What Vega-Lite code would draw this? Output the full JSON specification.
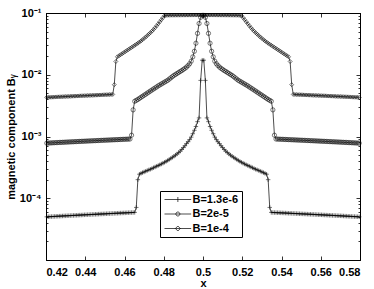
{
"$schema":"https://vega.github.io/schema/vega-lite/v6.json",
"width":314,"height":247,
"autosize":"none",
"padding":{"left":46,"top":13,"right":14,"bottom":29},
"background":"white",
"config":{"font":"Liberation Sans","view":{"stroke":"black","strokeWidth":1},
"axis":{"labelFont":"Liberation Sans","labelFontWeight":"bold","labelFontSize":11,"labelColor":"black","titleFont":"Liberation Sans","titleFontWeight":"bold","titleFontSize":11,"titleColor":"black","domainColor":"black","tickColor":"black","grid":false,"tickWidth":0.8,"domainWidth":1}},
"data":{"values":[
{"x":0.4204,"y":0.0043,"B":"1e-4"},{"x":0.4212,"y":0.00431,"B":"1e-4"},{"x":0.422,"y":0.00432,"B":"1e-4"},{"x":0.4228,"y":0.00433,"B":"1e-4"},{"x":0.4236,"y":0.00434,"B":"1e-4"},{"x":0.4244,"y":0.00435,"B":"1e-4"},{"x":0.4252,"y":0.00437,"B":"1e-4"},{"x":0.426,"y":0.00438,"B":"1e-4"},{"x":0.4268,"y":0.00439,"B":"1e-4"},{"x":0.4276,"y":0.0044,"B":"1e-4"},{"x":0.4284,"y":0.00441,"B":"1e-4"},{"x":0.4292,"y":0.00443,"B":"1e-4"},{"x":0.43,"y":0.00444,"B":"1e-4"},{"x":0.4308,"y":0.00445,"B":"1e-4"},{"x":0.4316,"y":0.00446,"B":"1e-4"},{"x":0.4324,"y":0.00447,"B":"1e-4"},{"x":0.4332,"y":0.00449,"B":"1e-4"},{"x":0.434,"y":0.0045,"B":"1e-4"},{"x":0.4348,"y":0.00451,"B":"1e-4"},{"x":0.4356,"y":0.00452,"B":"1e-4"},{"x":0.4364,"y":0.00453,"B":"1e-4"},{"x":0.4372,"y":0.00455,"B":"1e-4"},{"x":0.438,"y":0.00456,"B":"1e-4"},{"x":0.4388,"y":0.00457,"B":"1e-4"},{"x":0.4396,"y":0.00458,"B":"1e-4"},{"x":0.4404,"y":0.00459,"B":"1e-4"},{"x":0.4412,"y":0.00461,"B":"1e-4"},{"x":0.442,"y":0.00462,"B":"1e-4"},{"x":0.4428,"y":0.00463,"B":"1e-4"},{"x":0.4436,"y":0.00464,"B":"1e-4"},{"x":0.4444,"y":0.00465,"B":"1e-4"},{"x":0.4452,"y":0.00467,"B":"1e-4"},{"x":0.446,"y":0.00468,"B":"1e-4"},{"x":0.4468,"y":0.00469,"B":"1e-4"},{"x":0.4476,"y":0.0047,"B":"1e-4"},{"x":0.4484,"y":0.00471,"B":"1e-4"},{"x":0.4492,"y":0.00473,"B":"1e-4"},{"x":0.45,"y":0.00474,"B":"1e-4"},{"x":0.4508,"y":0.00475,"B":"1e-4"},{"x":0.4516,"y":0.00476,"B":"1e-4"},{"x":0.4524,"y":0.00478,"B":"1e-4"},{"x":0.4532,"y":0.00479,"B":"1e-4"},{"x":0.454,"y":0.0048,"B":"1e-4"},{"x":0.4548,"y":0.0069,"B":"1e-4"},{"x":0.4556,"y":0.0164,"B":"1e-4"},{"x":0.4564,"y":0.0195,"B":"1e-4"},{"x":0.4572,"y":0.0203,"B":"1e-4"},{"x":0.458,"y":0.0211,"B":"1e-4"},{"x":0.4588,"y":0.0219,"B":"1e-4"},{"x":0.4596,"y":0.0228,"B":"1e-4"},{"x":0.4604,"y":0.0237,"B":"1e-4"},{"x":0.4612,"y":0.0247,"B":"1e-4"},{"x":0.462,"y":0.0256,"B":"1e-4"},{"x":0.4628,"y":0.0267,"B":"1e-4"},{"x":0.4636,"y":0.0277,"B":"1e-4"},{"x":0.4644,"y":0.0288,"B":"1e-4"},{"x":0.4652,"y":0.03,"B":"1e-4"},{"x":0.466,"y":0.0312,"B":"1e-4"},{"x":0.4668,"y":0.0324,"B":"1e-4"},{"x":0.4676,"y":0.0338,"B":"1e-4"},{"x":0.4684,"y":0.0353,"B":"1e-4"},{"x":0.4692,"y":0.037,"B":"1e-4"},{"x":0.47,"y":0.0388,"B":"1e-4"},{"x":0.4708,"y":0.0408,"B":"1e-4"},{"x":0.4716,"y":0.0431,"B":"1e-4"},{"x":0.4724,"y":0.0454,"B":"1e-4"},{"x":0.4732,"y":0.048,"B":"1e-4"},{"x":0.474,"y":0.0508,"B":"1e-4"},{"x":0.4748,"y":0.0541,"B":"1e-4"},{"x":0.4756,"y":0.0578,"B":"1e-4"},{"x":0.4764,"y":0.0621,"B":"1e-4"},{"x":0.4772,"y":0.067,"B":"1e-4"},{"x":0.478,"y":0.0721,"B":"1e-4"},{"x":0.4788,"y":0.078,"B":"1e-4"},{"x":0.4796,"y":0.0841,"B":"1e-4"},{"x":0.4804,"y":0.0902,"B":"1e-4"},{"x":0.4812,"y":0.0917,"B":"1e-4"},{"x":0.482,"y":0.0919,"B":"1e-4"},{"x":0.4828,"y":0.092,"B":"1e-4"},{"x":0.4836,"y":0.0921,"B":"1e-4"},{"x":0.4844,"y":0.0921,"B":"1e-4"},{"x":0.4852,"y":0.0922,"B":"1e-4"},{"x":0.486,"y":0.0922,"B":"1e-4"},{"x":0.4868,"y":0.0923,"B":"1e-4"},{"x":0.4876,"y":0.0923,"B":"1e-4"},{"x":0.4884,"y":0.0923,"B":"1e-4"},{"x":0.4892,"y":0.0924,"B":"1e-4"},{"x":0.49,"y":0.0924,"B":"1e-4"},{"x":0.4908,"y":0.0924,"B":"1e-4"},{"x":0.4916,"y":0.0925,"B":"1e-4"},{"x":0.4924,"y":0.0925,"B":"1e-4"},{"x":0.4932,"y":0.0925,"B":"1e-4"},{"x":0.494,"y":0.0926,"B":"1e-4"},{"x":0.4948,"y":0.0926,"B":"1e-4"},{"x":0.4956,"y":0.0927,"B":"1e-4"},{"x":0.4964,"y":0.0927,"B":"1e-4"},{"x":0.4972,"y":0.0928,"B":"1e-4"},{"x":0.498,"y":0.0928,"B":"1e-4"},{"x":0.4988,"y":0.0929,"B":"1e-4"},{"x":0.4996,"y":0.093,"B":"1e-4"},
{"x":0.5004,"y":0.093,"B":"1e-4"},{"x":0.5012,"y":0.0929,"B":"1e-4"},{"x":0.502,"y":0.0928,"B":"1e-4"},{"x":0.5028,"y":0.0928,"B":"1e-4"},{"x":0.5036,"y":0.0927,"B":"1e-4"},{"x":0.5044,"y":0.0927,"B":"1e-4"},{"x":0.5052,"y":0.0926,"B":"1e-4"},{"x":0.506,"y":0.0926,"B":"1e-4"},{"x":0.5068,"y":0.0925,"B":"1e-4"},{"x":0.5076,"y":0.0925,"B":"1e-4"},{"x":0.5084,"y":0.0925,"B":"1e-4"},{"x":0.5092,"y":0.0924,"B":"1e-4"},{"x":0.51,"y":0.0924,"B":"1e-4"},{"x":0.5108,"y":0.0924,"B":"1e-4"},{"x":0.5116,"y":0.0923,"B":"1e-4"},{"x":0.5124,"y":0.0923,"B":"1e-4"},{"x":0.5132,"y":0.0923,"B":"1e-4"},{"x":0.514,"y":0.0922,"B":"1e-4"},{"x":0.5148,"y":0.0922,"B":"1e-4"},{"x":0.5156,"y":0.0921,"B":"1e-4"},{"x":0.5164,"y":0.0921,"B":"1e-4"},{"x":0.5172,"y":0.092,"B":"1e-4"},{"x":0.518,"y":0.0919,"B":"1e-4"},{"x":0.5188,"y":0.0917,"B":"1e-4"},{"x":0.5196,"y":0.0902,"B":"1e-4"},{"x":0.5204,"y":0.0841,"B":"1e-4"},{"x":0.5212,"y":0.078,"B":"1e-4"},{"x":0.522,"y":0.0721,"B":"1e-4"},{"x":0.5228,"y":0.067,"B":"1e-4"},{"x":0.5236,"y":0.0621,"B":"1e-4"},{"x":0.5244,"y":0.0578,"B":"1e-4"},{"x":0.5252,"y":0.0541,"B":"1e-4"},{"x":0.526,"y":0.0508,"B":"1e-4"},{"x":0.5268,"y":0.048,"B":"1e-4"},{"x":0.5276,"y":0.0454,"B":"1e-4"},{"x":0.5284,"y":0.0431,"B":"1e-4"},{"x":0.5292,"y":0.0408,"B":"1e-4"},{"x":0.53,"y":0.0388,"B":"1e-4"},{"x":0.5308,"y":0.037,"B":"1e-4"},{"x":0.5316,"y":0.0353,"B":"1e-4"},{"x":0.5324,"y":0.0338,"B":"1e-4"},{"x":0.5332,"y":0.0324,"B":"1e-4"},{"x":0.534,"y":0.0312,"B":"1e-4"},{"x":0.5348,"y":0.03,"B":"1e-4"},{"x":0.5356,"y":0.0288,"B":"1e-4"},{"x":0.5364,"y":0.0277,"B":"1e-4"},{"x":0.5372,"y":0.0267,"B":"1e-4"},{"x":0.538,"y":0.0256,"B":"1e-4"},{"x":0.5388,"y":0.0247,"B":"1e-4"},{"x":0.5396,"y":0.0237,"B":"1e-4"},{"x":0.5404,"y":0.0228,"B":"1e-4"},{"x":0.5412,"y":0.0219,"B":"1e-4"},{"x":0.542,"y":0.0211,"B":"1e-4"},{"x":0.5428,"y":0.0203,"B":"1e-4"},{"x":0.5436,"y":0.0195,"B":"1e-4"},{"x":0.5444,"y":0.0164,"B":"1e-4"},{"x":0.5452,"y":0.0069,"B":"1e-4"},{"x":0.546,"y":0.0048,"B":"1e-4"},{"x":0.5468,"y":0.00479,"B":"1e-4"},{"x":0.5476,"y":0.00478,"B":"1e-4"},{"x":0.5484,"y":0.00476,"B":"1e-4"},{"x":0.5492,"y":0.00475,"B":"1e-4"},{"x":0.55,"y":0.00474,"B":"1e-4"},{"x":0.5508,"y":0.00473,"B":"1e-4"},{"x":0.5516,"y":0.00471,"B":"1e-4"},{"x":0.5524,"y":0.0047,"B":"1e-4"},{"x":0.5532,"y":0.00469,"B":"1e-4"},{"x":0.554,"y":0.00468,"B":"1e-4"},{"x":0.5548,"y":0.00467,"B":"1e-4"},{"x":0.5556,"y":0.00465,"B":"1e-4"},{"x":0.5564,"y":0.00464,"B":"1e-4"},{"x":0.5572,"y":0.00463,"B":"1e-4"},{"x":0.558,"y":0.00462,"B":"1e-4"},{"x":0.5588,"y":0.00461,"B":"1e-4"},{"x":0.5596,"y":0.00459,"B":"1e-4"},{"x":0.5604,"y":0.00458,"B":"1e-4"},{"x":0.5612,"y":0.00457,"B":"1e-4"},{"x":0.562,"y":0.00456,"B":"1e-4"},{"x":0.5628,"y":0.00455,"B":"1e-4"},{"x":0.5636,"y":0.00453,"B":"1e-4"},{"x":0.5644,"y":0.00452,"B":"1e-4"},{"x":0.5652,"y":0.00451,"B":"1e-4"},{"x":0.566,"y":0.0045,"B":"1e-4"},{"x":0.5668,"y":0.00449,"B":"1e-4"},{"x":0.5676,"y":0.00447,"B":"1e-4"},{"x":0.5684,"y":0.00446,"B":"1e-4"},{"x":0.5692,"y":0.00445,"B":"1e-4"},{"x":0.57,"y":0.00444,"B":"1e-4"},{"x":0.5708,"y":0.00443,"B":"1e-4"},{"x":0.5716,"y":0.00441,"B":"1e-4"},{"x":0.5724,"y":0.0044,"B":"1e-4"},{"x":0.5732,"y":0.00439,"B":"1e-4"},{"x":0.574,"y":0.00438,"B":"1e-4"},{"x":0.5748,"y":0.00437,"B":"1e-4"},{"x":0.5756,"y":0.00435,"B":"1e-4"},{"x":0.5764,"y":0.00434,"B":"1e-4"},{"x":0.5772,"y":0.00433,"B":"1e-4"},{"x":0.578,"y":0.00432,"B":"1e-4"},{"x":0.5788,"y":0.00431,"B":"1e-4"},{"x":0.5796,"y":0.0043,"B":"1e-4"},
{"x":0.4204,"y":0.000781,"B":"2e-5"},{"x":0.4212,"y":0.000783,"B":"2e-5"},{"x":0.422,"y":0.000786,"B":"2e-5"},{"x":0.4228,"y":0.000788,"B":"2e-5"},{"x":0.4236,"y":0.000791,"B":"2e-5"},{"x":0.4244,"y":0.000793,"B":"2e-5"},{"x":0.4252,"y":0.000796,"B":"2e-5"},{"x":0.426,"y":0.000798,"B":"2e-5"},{"x":0.4268,"y":0.000801,"B":"2e-5"},{"x":0.4276,"y":0.000803,"B":"2e-5"},{"x":0.4284,"y":0.000805,"B":"2e-5"},{"x":0.4292,"y":0.000808,"B":"2e-5"},{"x":0.43,"y":0.00081,"B":"2e-5"},{"x":0.4308,"y":0.000813,"B":"2e-5"},{"x":0.4316,"y":0.000815,"B":"2e-5"},{"x":0.4324,"y":0.000818,"B":"2e-5"},{"x":0.4332,"y":0.00082,"B":"2e-5"},{"x":0.434,"y":0.000822,"B":"2e-5"},{"x":0.4348,"y":0.000825,"B":"2e-5"},{"x":0.4356,"y":0.000827,"B":"2e-5"},{"x":0.4364,"y":0.00083,"B":"2e-5"},{"x":0.4372,"y":0.000832,"B":"2e-5"},{"x":0.438,"y":0.000835,"B":"2e-5"},{"x":0.4388,"y":0.000837,"B":"2e-5"},{"x":0.4396,"y":0.000839,"B":"2e-5"},{"x":0.4404,"y":0.000842,"B":"2e-5"},{"x":0.4412,"y":0.000844,"B":"2e-5"},{"x":0.442,"y":0.000847,"B":"2e-5"},{"x":0.4428,"y":0.000849,"B":"2e-5"},{"x":0.4436,"y":0.000852,"B":"2e-5"},{"x":0.4444,"y":0.000854,"B":"2e-5"},{"x":0.4452,"y":0.000856,"B":"2e-5"},{"x":0.446,"y":0.000859,"B":"2e-5"},{"x":0.4468,"y":0.000861,"B":"2e-5"},{"x":0.4476,"y":0.000864,"B":"2e-5"},{"x":0.4484,"y":0.000866,"B":"2e-5"},{"x":0.4492,"y":0.000869,"B":"2e-5"},{"x":0.45,"y":0.000871,"B":"2e-5"},{"x":0.4508,"y":0.000873,"B":"2e-5"},{"x":0.4516,"y":0.000876,"B":"2e-5"},{"x":0.4524,"y":0.000878,"B":"2e-5"},{"x":0.4532,"y":0.000881,"B":"2e-5"},{"x":0.454,"y":0.000883,"B":"2e-5"},{"x":0.4548,"y":0.000886,"B":"2e-5"},{"x":0.4556,"y":0.000888,"B":"2e-5"},{"x":0.4564,"y":0.00089,"B":"2e-5"},{"x":0.4572,"y":0.000893,"B":"2e-5"},{"x":0.458,"y":0.000895,"B":"2e-5"},{"x":0.4588,"y":0.000898,"B":"2e-5"},{"x":0.4596,"y":0.0009,"B":"2e-5"},{"x":0.4604,"y":0.000903,"B":"2e-5"},{"x":0.4612,"y":0.000905,"B":"2e-5"},{"x":0.462,"y":0.000908,"B":"2e-5"},{"x":0.4628,"y":0.00091,"B":"2e-5"},{"x":0.4636,"y":0.00105,"B":"2e-5"},{"x":0.4644,"y":0.0027,"B":"2e-5"},{"x":0.4652,"y":0.00372,"B":"2e-5"},{"x":0.466,"y":0.00385,"B":"2e-5"},{"x":0.4668,"y":0.00398,"B":"2e-5"},{"x":0.4676,"y":0.00414,"B":"2e-5"},{"x":0.4684,"y":0.00431,"B":"2e-5"},{"x":0.4692,"y":0.00448,"B":"2e-5"},{"x":0.47,"y":0.00466,"B":"2e-5"},{"x":0.4708,"y":0.00484,"B":"2e-5"},{"x":0.4716,"y":0.00504,"B":"2e-5"},{"x":0.4724,"y":0.00524,"B":"2e-5"},{"x":0.4732,"y":0.00545,"B":"2e-5"},{"x":0.474,"y":0.00566,"B":"2e-5"},{"x":0.4748,"y":0.00589,"B":"2e-5"},{"x":0.4756,"y":0.00611,"B":"2e-5"},{"x":0.4764,"y":0.00635,"B":"2e-5"},{"x":0.4772,"y":0.00661,"B":"2e-5"},{"x":0.478,"y":0.00684,"B":"2e-5"},{"x":0.4788,"y":0.00708,"B":"2e-5"},{"x":0.4796,"y":0.00733,"B":"2e-5"},{"x":0.4804,"y":0.00759,"B":"2e-5"},{"x":0.4812,"y":0.00785,"B":"2e-5"},{"x":0.482,"y":0.00813,"B":"2e-5"},{"x":0.4828,"y":0.00851,"B":"2e-5"},{"x":0.4836,"y":0.00891,"B":"2e-5"},{"x":0.4844,"y":0.00933,"B":"2e-5"},{"x":0.4852,"y":0.00977,"B":"2e-5"},{"x":0.486,"y":0.0101,"B":"2e-5"},{"x":0.4868,"y":0.0105,"B":"2e-5"},{"x":0.4876,"y":0.0109,"B":"2e-5"},{"x":0.4884,"y":0.0113,"B":"2e-5"},{"x":0.4892,"y":0.0117,"B":"2e-5"},{"x":0.49,"y":0.0122,"B":"2e-5"},{"x":0.4908,"y":0.0127,"B":"2e-5"},{"x":0.4916,"y":0.0133,"B":"2e-5"},{"x":0.4924,"y":0.0141,"B":"2e-5"},{"x":0.4932,"y":0.0151,"B":"2e-5"},{"x":0.494,"y":0.0166,"B":"2e-5"},{"x":0.4948,"y":0.0195,"B":"2e-5"},{"x":0.4956,"y":0.024,"B":"2e-5"},{"x":0.4964,"y":0.0324,"B":"2e-5"},{"x":0.4972,"y":0.0468,"B":"2e-5"},{"x":0.498,"y":0.0676,"B":"2e-5"},{"x":0.4988,"y":0.0851,"B":"2e-5"},{"x":0.4996,"y":0.0912,"B":"2e-5"},
{"x":0.5004,"y":0.0912,"B":"2e-5"},{"x":0.5012,"y":0.0851,"B":"2e-5"},{"x":0.502,"y":0.0676,"B":"2e-5"},{"x":0.5028,"y":0.0468,"B":"2e-5"},{"x":0.5036,"y":0.0324,"B":"2e-5"},{"x":0.5044,"y":0.024,"B":"2e-5"},{"x":0.5052,"y":0.0195,"B":"2e-5"},{"x":0.506,"y":0.0166,"B":"2e-5"},{"x":0.5068,"y":0.0151,"B":"2e-5"},{"x":0.5076,"y":0.0141,"B":"2e-5"},{"x":0.5084,"y":0.0133,"B":"2e-5"},{"x":0.5092,"y":0.0127,"B":"2e-5"},{"x":0.51,"y":0.0122,"B":"2e-5"},{"x":0.5108,"y":0.0117,"B":"2e-5"},{"x":0.5116,"y":0.0113,"B":"2e-5"},{"x":0.5124,"y":0.0109,"B":"2e-5"},{"x":0.5132,"y":0.0105,"B":"2e-5"},{"x":0.514,"y":0.0101,"B":"2e-5"},{"x":0.5148,"y":0.00977,"B":"2e-5"},{"x":0.5156,"y":0.00933,"B":"2e-5"},{"x":0.5164,"y":0.00891,"B":"2e-5"},{"x":0.5172,"y":0.00851,"B":"2e-5"},{"x":0.518,"y":0.00813,"B":"2e-5"},{"x":0.5188,"y":0.00785,"B":"2e-5"},{"x":0.5196,"y":0.00759,"B":"2e-5"},{"x":0.5204,"y":0.00733,"B":"2e-5"},{"x":0.5212,"y":0.00708,"B":"2e-5"},{"x":0.522,"y":0.00684,"B":"2e-5"},{"x":0.5228,"y":0.00661,"B":"2e-5"},{"x":0.5236,"y":0.00635,"B":"2e-5"},{"x":0.5244,"y":0.00611,"B":"2e-5"},{"x":0.5252,"y":0.00589,"B":"2e-5"},{"x":0.526,"y":0.00566,"B":"2e-5"},{"x":0.5268,"y":0.00545,"B":"2e-5"},{"x":0.5276,"y":0.00524,"B":"2e-5"},{"x":0.5284,"y":0.00504,"B":"2e-5"},{"x":0.5292,"y":0.00484,"B":"2e-5"},{"x":0.53,"y":0.00466,"B":"2e-5"},{"x":0.5308,"y":0.00448,"B":"2e-5"},{"x":0.5316,"y":0.00431,"B":"2e-5"},{"x":0.5324,"y":0.00414,"B":"2e-5"},{"x":0.5332,"y":0.00398,"B":"2e-5"},{"x":0.534,"y":0.00385,"B":"2e-5"},{"x":0.5348,"y":0.00372,"B":"2e-5"},{"x":0.5356,"y":0.0027,"B":"2e-5"},{"x":0.5364,"y":0.00105,"B":"2e-5"},{"x":0.5372,"y":0.00091,"B":"2e-5"},{"x":0.538,"y":0.000908,"B":"2e-5"},{"x":0.5388,"y":0.000905,"B":"2e-5"},{"x":0.5396,"y":0.000903,"B":"2e-5"},{"x":0.5404,"y":0.0009,"B":"2e-5"},{"x":0.5412,"y":0.000898,"B":"2e-5"},{"x":0.542,"y":0.000895,"B":"2e-5"},{"x":0.5428,"y":0.000893,"B":"2e-5"},{"x":0.5436,"y":0.00089,"B":"2e-5"},{"x":0.5444,"y":0.000888,"B":"2e-5"},{"x":0.5452,"y":0.000886,"B":"2e-5"},{"x":0.546,"y":0.000883,"B":"2e-5"},{"x":0.5468,"y":0.000881,"B":"2e-5"},{"x":0.5476,"y":0.000878,"B":"2e-5"},{"x":0.5484,"y":0.000876,"B":"2e-5"},{"x":0.5492,"y":0.000873,"B":"2e-5"},{"x":0.55,"y":0.000871,"B":"2e-5"},{"x":0.5508,"y":0.000869,"B":"2e-5"},{"x":0.5516,"y":0.000866,"B":"2e-5"},{"x":0.5524,"y":0.000864,"B":"2e-5"},{"x":0.5532,"y":0.000861,"B":"2e-5"},{"x":0.554,"y":0.000859,"B":"2e-5"},{"x":0.5548,"y":0.000856,"B":"2e-5"},{"x":0.5556,"y":0.000854,"B":"2e-5"},{"x":0.5564,"y":0.000852,"B":"2e-5"},{"x":0.5572,"y":0.000849,"B":"2e-5"},{"x":0.558,"y":0.000847,"B":"2e-5"},{"x":0.5588,"y":0.000844,"B":"2e-5"},{"x":0.5596,"y":0.000842,"B":"2e-5"},{"x":0.5604,"y":0.000839,"B":"2e-5"},{"x":0.5612,"y":0.000837,"B":"2e-5"},{"x":0.562,"y":0.000835,"B":"2e-5"},{"x":0.5628,"y":0.000832,"B":"2e-5"},{"x":0.5636,"y":0.00083,"B":"2e-5"},{"x":0.5644,"y":0.000827,"B":"2e-5"},{"x":0.5652,"y":0.000825,"B":"2e-5"},{"x":0.566,"y":0.000822,"B":"2e-5"},{"x":0.5668,"y":0.00082,"B":"2e-5"},{"x":0.5676,"y":0.000818,"B":"2e-5"},{"x":0.5684,"y":0.000815,"B":"2e-5"},{"x":0.5692,"y":0.000813,"B":"2e-5"},{"x":0.57,"y":0.00081,"B":"2e-5"},{"x":0.5708,"y":0.000808,"B":"2e-5"},{"x":0.5716,"y":0.000805,"B":"2e-5"},{"x":0.5724,"y":0.000803,"B":"2e-5"},{"x":0.5732,"y":0.000801,"B":"2e-5"},{"x":0.574,"y":0.000798,"B":"2e-5"},{"x":0.5748,"y":0.000796,"B":"2e-5"},{"x":0.5756,"y":0.000793,"B":"2e-5"},{"x":0.5764,"y":0.000791,"B":"2e-5"},{"x":0.5772,"y":0.000788,"B":"2e-5"},{"x":0.578,"y":0.000786,"B":"2e-5"},{"x":0.5788,"y":0.000783,"B":"2e-5"},{"x":0.5796,"y":0.000781,"B":"2e-5"},
{"x":0.4204,"y":5.0e-5,"B":"1.3e-6"},{"x":0.4212,"y":5.02e-5,"B":"1.3e-6"},{"x":0.422,"y":5.03e-5,"B":"1.3e-6"},{"x":0.4228,"y":5.05e-5,"B":"1.3e-6"},{"x":0.4236,"y":5.06e-5,"B":"1.3e-6"},{"x":0.4244,"y":5.08e-5,"B":"1.3e-6"},{"x":0.4252,"y":5.1e-5,"B":"1.3e-6"},{"x":0.426,"y":5.11e-5,"B":"1.3e-6"},{"x":0.4268,"y":5.13e-5,"B":"1.3e-6"},{"x":0.4276,"y":5.14e-5,"B":"1.3e-6"},{"x":0.4284,"y":5.16e-5,"B":"1.3e-6"},{"x":0.4292,"y":5.18e-5,"B":"1.3e-6"},{"x":0.43,"y":5.19e-5,"B":"1.3e-6"},{"x":0.4308,"y":5.21e-5,"B":"1.3e-6"},{"x":0.4316,"y":5.22e-5,"B":"1.3e-6"},{"x":0.4324,"y":5.24e-5,"B":"1.3e-6"},{"x":0.4332,"y":5.26e-5,"B":"1.3e-6"},{"x":0.434,"y":5.27e-5,"B":"1.3e-6"},{"x":0.4348,"y":5.29e-5,"B":"1.3e-6"},{"x":0.4356,"y":5.3e-5,"B":"1.3e-6"},{"x":0.4364,"y":5.32e-5,"B":"1.3e-6"},{"x":0.4372,"y":5.34e-5,"B":"1.3e-6"},{"x":0.438,"y":5.35e-5,"B":"1.3e-6"},{"x":0.4388,"y":5.37e-5,"B":"1.3e-6"},{"x":0.4396,"y":5.39e-5,"B":"1.3e-6"},{"x":0.4404,"y":5.4e-5,"B":"1.3e-6"},{"x":0.4412,"y":5.42e-5,"B":"1.3e-6"},{"x":0.442,"y":5.43e-5,"B":"1.3e-6"},{"x":0.4428,"y":5.45e-5,"B":"1.3e-6"},{"x":0.4436,"y":5.47e-5,"B":"1.3e-6"},{"x":0.4444,"y":5.48e-5,"B":"1.3e-6"},{"x":0.4452,"y":5.5e-5,"B":"1.3e-6"},{"x":0.446,"y":5.51e-5,"B":"1.3e-6"},{"x":0.4468,"y":5.53e-5,"B":"1.3e-6"},{"x":0.4476,"y":5.55e-5,"B":"1.3e-6"},{"x":0.4484,"y":5.56e-5,"B":"1.3e-6"},{"x":0.4492,"y":5.58e-5,"B":"1.3e-6"},{"x":0.45,"y":5.59e-5,"B":"1.3e-6"},{"x":0.4508,"y":5.61e-5,"B":"1.3e-6"},{"x":0.4516,"y":5.63e-5,"B":"1.3e-6"},{"x":0.4524,"y":5.64e-5,"B":"1.3e-6"},{"x":0.4532,"y":5.66e-5,"B":"1.3e-6"},{"x":0.454,"y":5.67e-5,"B":"1.3e-6"},{"x":0.4548,"y":5.69e-5,"B":"1.3e-6"},{"x":0.4556,"y":5.71e-5,"B":"1.3e-6"},{"x":0.4564,"y":5.72e-5,"B":"1.3e-6"},{"x":0.4572,"y":5.74e-5,"B":"1.3e-6"},{"x":0.458,"y":5.76e-5,"B":"1.3e-6"},{"x":0.4588,"y":5.77e-5,"B":"1.3e-6"},{"x":0.4596,"y":5.79e-5,"B":"1.3e-6"},{"x":0.4604,"y":5.8e-5,"B":"1.3e-6"},{"x":0.4612,"y":5.82e-5,"B":"1.3e-6"},{"x":0.462,"y":5.84e-5,"B":"1.3e-6"},{"x":0.4628,"y":5.85e-5,"B":"1.3e-6"},{"x":0.4636,"y":5.87e-5,"B":"1.3e-6"},{"x":0.4644,"y":5.88e-5,"B":"1.3e-6"},{"x":0.4652,"y":5.9e-5,"B":"1.3e-6"},{"x":0.466,"y":7.1e-5,"B":"1.3e-6"},{"x":0.4668,"y":0.0002,"B":"1.3e-6"},{"x":0.4676,"y":0.000245,"B":"1.3e-6"},{"x":0.4684,"y":0.000253,"B":"1.3e-6"},{"x":0.4692,"y":0.00026,"B":"1.3e-6"},{"x":0.47,"y":0.000267,"B":"1.3e-6"},{"x":0.4708,"y":0.000274,"B":"1.3e-6"},{"x":0.4716,"y":0.000281,"B":"1.3e-6"},{"x":0.4724,"y":0.000288,"B":"1.3e-6"},{"x":0.4732,"y":0.000295,"B":"1.3e-6"},{"x":0.474,"y":0.000303,"B":"1.3e-6"},{"x":0.4748,"y":0.000312,"B":"1.3e-6"},{"x":0.4756,"y":0.000321,"B":"1.3e-6"},{"x":0.4764,"y":0.00033,"B":"1.3e-6"},{"x":0.4772,"y":0.000339,"B":"1.3e-6"},{"x":0.478,"y":0.000348,"B":"1.3e-6"},{"x":0.4788,"y":0.000359,"B":"1.3e-6"},{"x":0.4796,"y":0.00037,"B":"1.3e-6"},{"x":0.4804,"y":0.000382,"B":"1.3e-6"},{"x":0.4812,"y":0.000395,"B":"1.3e-6"},{"x":0.482,"y":0.000409,"B":"1.3e-6"},{"x":0.4828,"y":0.000425,"B":"1.3e-6"},{"x":0.4836,"y":0.000442,"B":"1.3e-6"},{"x":0.4844,"y":0.000459,"B":"1.3e-6"},{"x":0.4852,"y":0.000479,"B":"1.3e-6"},{"x":0.486,"y":0.000499,"B":"1.3e-6"},{"x":0.4868,"y":0.000522,"B":"1.3e-6"},{"x":0.4876,"y":0.00055,"B":"1.3e-6"},{"x":0.4884,"y":0.000579,"B":"1.3e-6"},{"x":0.4892,"y":0.000617,"B":"1.3e-6"},{"x":0.49,"y":0.000661,"B":"1.3e-6"},{"x":0.4908,"y":0.000708,"B":"1.3e-6"},{"x":0.4916,"y":0.000767,"B":"1.3e-6"},{"x":0.4924,"y":0.000822,"B":"1.3e-6"},{"x":0.4932,"y":0.000891,"B":"1.3e-6"},{"x":0.494,"y":0.000977,"B":"1.3e-6"},{"x":0.4948,"y":0.00111,"B":"1.3e-6"},{"x":0.4956,"y":0.00126,"B":"1.3e-6"},{"x":0.4964,"y":0.00145,"B":"1.3e-6"},{"x":0.4972,"y":0.00174,"B":"1.3e-6"},{"x":0.498,"y":0.002,"B":"1.3e-6"},{"x":0.4988,"y":0.0081,"B":"1.3e-6"},{"x":0.4996,"y":0.0172,"B":"1.3e-6"},
{"x":0.5004,"y":0.0172,"B":"1.3e-6"},{"x":0.5012,"y":0.0081,"B":"1.3e-6"},{"x":0.502,"y":0.002,"B":"1.3e-6"},{"x":0.5028,"y":0.00174,"B":"1.3e-6"},{"x":0.5036,"y":0.00145,"B":"1.3e-6"},{"x":0.5044,"y":0.00126,"B":"1.3e-6"},{"x":0.5052,"y":0.00111,"B":"1.3e-6"},{"x":0.506,"y":0.000977,"B":"1.3e-6"},{"x":0.5068,"y":0.000891,"B":"1.3e-6"},{"x":0.5076,"y":0.000822,"B":"1.3e-6"},{"x":0.5084,"y":0.000767,"B":"1.3e-6"},{"x":0.5092,"y":0.000708,"B":"1.3e-6"},{"x":0.51,"y":0.000661,"B":"1.3e-6"},{"x":0.5108,"y":0.000617,"B":"1.3e-6"},{"x":0.5116,"y":0.000579,"B":"1.3e-6"},{"x":0.5124,"y":0.00055,"B":"1.3e-6"},{"x":0.5132,"y":0.000522,"B":"1.3e-6"},{"x":0.514,"y":0.000499,"B":"1.3e-6"},{"x":0.5148,"y":0.000479,"B":"1.3e-6"},{"x":0.5156,"y":0.000459,"B":"1.3e-6"},{"x":0.5164,"y":0.000442,"B":"1.3e-6"},{"x":0.5172,"y":0.000425,"B":"1.3e-6"},{"x":0.518,"y":0.000409,"B":"1.3e-6"},{"x":0.5188,"y":0.000395,"B":"1.3e-6"},{"x":0.5196,"y":0.000382,"B":"1.3e-6"},{"x":0.5204,"y":0.00037,"B":"1.3e-6"},{"x":0.5212,"y":0.000359,"B":"1.3e-6"},{"x":0.522,"y":0.000348,"B":"1.3e-6"},{"x":0.5228,"y":0.000339,"B":"1.3e-6"},{"x":0.5236,"y":0.00033,"B":"1.3e-6"},{"x":0.5244,"y":0.000321,"B":"1.3e-6"},{"x":0.5252,"y":0.000312,"B":"1.3e-6"},{"x":0.526,"y":0.000303,"B":"1.3e-6"},{"x":0.5268,"y":0.000295,"B":"1.3e-6"},{"x":0.5276,"y":0.000288,"B":"1.3e-6"},{"x":0.5284,"y":0.000281,"B":"1.3e-6"},{"x":0.5292,"y":0.000274,"B":"1.3e-6"},{"x":0.53,"y":0.000267,"B":"1.3e-6"},{"x":0.5308,"y":0.00026,"B":"1.3e-6"},{"x":0.5316,"y":0.000253,"B":"1.3e-6"},{"x":0.5324,"y":0.000245,"B":"1.3e-6"},{"x":0.5332,"y":0.0002,"B":"1.3e-6"},{"x":0.534,"y":7.1e-5,"B":"1.3e-6"},{"x":0.5348,"y":5.9e-5,"B":"1.3e-6"},{"x":0.5356,"y":5.88e-5,"B":"1.3e-6"},{"x":0.5364,"y":5.87e-5,"B":"1.3e-6"},{"x":0.5372,"y":5.85e-5,"B":"1.3e-6"},{"x":0.538,"y":5.84e-5,"B":"1.3e-6"},{"x":0.5388,"y":5.82e-5,"B":"1.3e-6"},{"x":0.5396,"y":5.8e-5,"B":"1.3e-6"},{"x":0.5404,"y":5.79e-5,"B":"1.3e-6"},{"x":0.5412,"y":5.77e-5,"B":"1.3e-6"},{"x":0.542,"y":5.76e-5,"B":"1.3e-6"},{"x":0.5428,"y":5.74e-5,"B":"1.3e-6"},{"x":0.5436,"y":5.72e-5,"B":"1.3e-6"},{"x":0.5444,"y":5.71e-5,"B":"1.3e-6"},{"x":0.5452,"y":5.69e-5,"B":"1.3e-6"},{"x":0.546,"y":5.67e-5,"B":"1.3e-6"},{"x":0.5468,"y":5.66e-5,"B":"1.3e-6"},{"x":0.5476,"y":5.64e-5,"B":"1.3e-6"},{"x":0.5484,"y":5.63e-5,"B":"1.3e-6"},{"x":0.5492,"y":5.61e-5,"B":"1.3e-6"},{"x":0.55,"y":5.59e-5,"B":"1.3e-6"},{"x":0.5508,"y":5.58e-5,"B":"1.3e-6"},{"x":0.5516,"y":5.56e-5,"B":"1.3e-6"},{"x":0.5524,"y":5.55e-5,"B":"1.3e-6"},{"x":0.5532,"y":5.53e-5,"B":"1.3e-6"},{"x":0.554,"y":5.51e-5,"B":"1.3e-6"},{"x":0.5548,"y":5.5e-5,"B":"1.3e-6"},{"x":0.5556,"y":5.48e-5,"B":"1.3e-6"},{"x":0.5564,"y":5.47e-5,"B":"1.3e-6"},{"x":0.5572,"y":5.45e-5,"B":"1.3e-6"},{"x":0.558,"y":5.43e-5,"B":"1.3e-6"},{"x":0.5588,"y":5.42e-5,"B":"1.3e-6"},{"x":0.5596,"y":5.4e-5,"B":"1.3e-6"},{"x":0.5604,"y":5.39e-5,"B":"1.3e-6"},{"x":0.5612,"y":5.37e-5,"B":"1.3e-6"},{"x":0.562,"y":5.35e-5,"B":"1.3e-6"},{"x":0.5628,"y":5.34e-5,"B":"1.3e-6"},{"x":0.5636,"y":5.32e-5,"B":"1.3e-6"},{"x":0.5644,"y":5.3e-5,"B":"1.3e-6"},{"x":0.5652,"y":5.29e-5,"B":"1.3e-6"},{"x":0.566,"y":5.27e-5,"B":"1.3e-6"},{"x":0.5668,"y":5.26e-5,"B":"1.3e-6"},{"x":0.5676,"y":5.24e-5,"B":"1.3e-6"},{"x":0.5684,"y":5.22e-5,"B":"1.3e-6"},{"x":0.5692,"y":5.21e-5,"B":"1.3e-6"},{"x":0.57,"y":5.19e-5,"B":"1.3e-6"},{"x":0.5708,"y":5.18e-5,"B":"1.3e-6"},{"x":0.5716,"y":5.16e-5,"B":"1.3e-6"},{"x":0.5724,"y":5.14e-5,"B":"1.3e-6"},{"x":0.5732,"y":5.13e-5,"B":"1.3e-6"},{"x":0.574,"y":5.11e-5,"B":"1.3e-6"},{"x":0.5748,"y":5.1e-5,"B":"1.3e-6"},{"x":0.5756,"y":5.08e-5,"B":"1.3e-6"},{"x":0.5764,"y":5.06e-5,"B":"1.3e-6"},{"x":0.5772,"y":5.05e-5,"B":"1.3e-6"},{"x":0.578,"y":5.03e-5,"B":"1.3e-6"},{"x":0.5788,"y":5.02e-5,"B":"1.3e-6"},{"x":0.5796,"y":5.0e-5,"B":"1.3e-6"}
]},
"layer":[
{"mark":{"type":"line","color":"black","strokeWidth":0.7},
"encoding":{
"x":{"field":"x","type":"quantitative","scale":{"domain":[0.42,0.58],"nice":false,"zero":false},
"axis":{"orient":"bottom","values":[0.42,0.44,0.46,0.48,0.5,0.52,0.54,0.56,0.58],"format":".2~f","tickSize":-4,"labelPadding":10,"title":"x","titlePadding":0}},
"y":{"field":"y","type":"quantitative","scale":{"type":"log","domain":[0.00001,0.1],"nice":false},
"axis":{"orient":"left","values":[0.00002,0.00003,0.00004,0.00005,0.00006,0.00007,0.00008,0.00009,0.0001,0.0002,0.0003,0.0004,0.0005,0.0006,0.0007,0.0008,0.0009,0.001,0.002,0.003,0.004,0.005,0.006,0.007,0.008,0.009,0.01,0.02,0.03,0.04,0.05,0.06,0.07,0.08,0.09,0.1],
"labelExpr":"abs(log(datum.value)/LN10-round(log(datum.value)/LN10))<0.001 ? '10' + ['⁰','⁻¹','⁻²','⁻³','⁻⁴','⁻⁵'][-round(log(datum.value)/LN10)] : ''",
"tickSize":{"condition":{"test":"abs(log(datum.value)/LN10-round(log(datum.value)/LN10))<0.001","value":-4},"value":-2},
"labelPadding":9,"title":"magnetic component Bᵧ","titlePadding":3}},
"detail":{"field":"B"}}},
{"mark":{"type":"point","filled":false,"stroke":"black","strokeWidth":0.75},
"encoding":{
"x":{"field":"x","type":"quantitative","axis":{"orient":"top","values":[0.42,0.44,0.46,0.48,0.5,0.52,0.54,0.56,0.58],"labels":false,"tickSize":-4,"title":null}},
"y":{"field":"y","type":"quantitative","axis":{"orient":"right","values":[0.00002,0.00003,0.00004,0.00005,0.00006,0.00007,0.00008,0.00009,0.0001,0.0002,0.0003,0.0004,0.0005,0.0006,0.0007,0.0008,0.0009,0.001,0.002,0.003,0.004,0.005,0.006,0.007,0.008,0.009,0.01,0.02,0.03,0.04,0.05,0.06,0.07,0.08,0.09,0.1],"labels":false,"title":null,
"tickSize":{"condition":{"test":"abs(log(datum.value)/LN10-round(log(datum.value)/LN10))<0.001","value":-4},"value":-2}}},
"shape":{"field":"B","type":"nominal","scale":{"domain":["1.3e-6","2e-5","1e-4"],"range":["M-1,0H1M0,-1V1","circle","diamond"]},"legend":null},
"size":{"field":"B","type":"nominal","scale":{"domain":["1.3e-6","2e-5","1e-4"],"range":[20,16,22]},"legend":null}}},
{"mark":{"type":"point","opacity":0},
"encoding":{
"x":{"field":"x","type":"quantitative","axis":null},
"y":{"field":"y","type":"quantitative","axis":null},
"shape":{"field":"B","type":"nominal","scale":{"domain":["1.3e-6","2e-5","1e-4"],"range":["M-1,0H5.67M2.34,-0.625V0.625","M-1,0H5.67M1.84,0A0.5,0.5,0,1,1,2.84,0A0.5,0.5,0,1,1,1.84,0","M-1,0H5.67M1.715,0L2.34,-0.625L2.965,0L2.34,0.625Z"]},
"legend":{"title":null,"orient":"none","legendX":114,"legendY":178,"strokeColor":"black","fillColor":"white","padding":3,"symbolSize":64,"symbolStrokeColor":"black","symbolFillColor":"transparent","symbolStrokeWidth":0.7,"symbolOpacity":1,"labelExpr":"'B=' + datum.label","labelFont":"Liberation Sans","labelFontWeight":"bold","labelFontSize":11,"labelColor":"black","labelOffset":18.5,"rowPadding":2.5,"cornerRadius":0}}}}
],
"resolve":{"axis":{"x":"independent","y":"independent"},"scale":{"shape":"independent","size":"independent"}}
}
